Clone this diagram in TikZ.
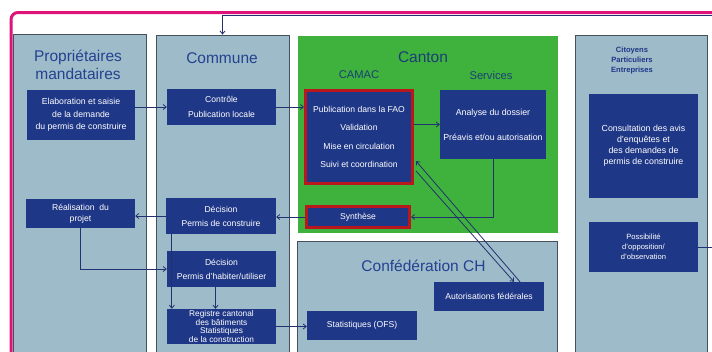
\documentclass[tikz,border=0pt]{standalone}
\usepackage{fontspec}
\setmainfont{Liberation Sans}
\usetikzlibrary{arrows.meta,calc}

\definecolor{panelfill}{RGB}{157,187,201}
\definecolor{panelline}{RGB}{70,80,92}
\definecolor{cantongreen}{RGB}{62,178,60}
\definecolor{navybox}{RGB}{31,55,135}
\definecolor{redline}{RGB}{185,22,30}
\definecolor{framepink}{RGB}{222,18,120}
\definecolor{titleblue}{RGB}{36,66,145}
\definecolor{cantontitle}{RGB}{28,62,118}
\definecolor{connline}{RGB}{36,48,112}

\newcommand{\bxf}[2]{\fontsize{#1}{#2}\selectfont}

\begin{document}
\begin{tikzpicture}[x=1pt,y=-1pt,
  panel/.style={draw=panelline, fill=panelfill, line width=0.8pt, inner sep=0pt},
  greenpanel/.style={fill=cantongreen, inner sep=0pt},
  box/.style={fill=navybox, text=white, align=center, inner sep=0pt},
  redbox/.style={box, draw=redline, line width=3pt},
  title/.style={text=titleblue, font=\bxf{15.5}{18}, inner sep=0pt},
  subtitle/.style={text=cantontitle, font=\bxf{11.2}{13}, inner sep=0pt},
  conn/.style={draw=connline, line width=0.8pt, -{Straight Barb[length=3pt,width=5pt]}},
  plain/.style={draw=connline, line width=0.8pt}
]
\useasboundingbox (0,0) rectangle (712,351);
\clip (0,0) rectangle (712,351);
\fill[white] (0,0) rectangle (712,351);

% outer frame
\draw[framepink, line width=3pt, rounded corners=7pt] (11,400) |- (740,12.5);

% column panels
\node[panel, minimum width=133, minimum height=326] (prop) at (79.5,197) {};
\node[panel, minimum width=133, minimum height=325] (commune) at (222.5,197.5) {};
\node[greenpanel, minimum width=260, minimum height=197] (canton) at (428,134.5) {};
\node[panel, minimum width=260, minimum height=119] (conf) at (427,300.5) {};
\node[panel, minimum width=132, minimum height=325] (citoyens) at (641,197.5) {};

% panel titles
\node[title] (tprop1) at (78,57) {Propriétaires};
\node[title] (tprop2) at (78,74) {mandataires};
\node[title] (tcommune) at (222,58) {Commune};
\node[title, text=cantontitle] (tcanton) at (423,57) {Canton};
\node[subtitle] (tcamac) at (359,75) {CAMAC};
\node[subtitle] (tservices) at (491,75) {Services};
\node[title] (tconf) at (423.5,266) {Confédération CH};
\node[text=navybox, font=\bfseries\bxf{7.6}{10}, align=center, inner sep=0pt] (tcit) at (632,61)
  {Citoyens\\Particuliers\\Entreprises};

% process boxes
\node[box, minimum width=108, minimum height=50, font=\bxf{8.7}{12.5}] (elab) at (81,115)
  {Elaboration et saisie\\de la demande\\du permis de construire};
\node[box, minimum width=109, minimum height=36, font=\bxf{8.6}{15}] (ctrl) at (221.5,107)
  {Contrôle\\Publication locale};
\node[redbox, minimum width=107, minimum height=93, font=\bxf{8.6}{18.3}] (camac) at (359,137)
  {Publication dans la FAO\\Validation\\Mise en circulation\\Suivi et coordination};
\node[box, minimum width=106, minimum height=69, font=\bxf{8.8}{25}] (serv) at (493,124.5)
  {Analyse du dossier\\Préavis et/ou autorisation};
\node[redbox, minimum width=103, minimum height=21, font=\bxf{8.6}{11}] (synth) at (358,217)
  {Synthèse};
\node[box, minimum width=109, minimum height=29, font=\bxf{8.6}{11.5}] (real) at (80.5,213.5)
  {Réalisation~~du\\projet};
\node[box, minimum width=110, minimum height=36, font=\bxf{8.6}{14}] (decpc) at (221,216)
  {Décision\\Permis de construire};
\node[box, minimum width=109, minimum height=36, font=\bxf{8.6}{14}] (decph) at (221.5,269)
  {Décision\\Permis d'habiter/utiliser};
\node[box, minimum width=109, minimum height=35, font=\bxf{8.3}{8.4}] (reg) at (221.5,326.5)
  {Registre cantonal\\des bâtiments\\Statistiques\\de la construction};
\node[box, minimum width=110, minimum height=29, font=\bxf{8.6}{11}] (ofs) at (362,325.5)
  {Statistiques (OFS)};
\node[box, minimum width=110, minimum height=29, font=\bxf{8.6}{11}] (autfed) at (489,296.5)
  {Autorisations fédérales};
\node[box, minimum width=109, minimum height=104, font=\bxf{8.8}{11}] (consult) at (643.5,146)
  {Consultation des avis\\d'enquêtes et\\des demandes de\\permis de construire};
\node[box, minimum width=109, minimum height=50, font=\bxf{7.6}{10}] (poss) at (643.5,247)
  {Possibilité\\d'opposition/\\d'observation};

% loose ends leaving the frame
\coordinate (topout) at (740,15);
\coordinate (possout) at (740,247);

% connectors
\draw[conn] (topout) -| (commune.north);
\draw[conn] (elab.east |- ctrl) -- (ctrl.west);
\draw[conn] (ctrl.east) -- (ctrl.east -| camac.west);
\draw[conn] (camac.east |- serv) -- (serv.west);
\draw[conn] (serv.south) |- (synth.east);
\draw[conn] (synth.west) -- (synth.west -| decpc.east);
\draw[conn] (decpc.west) -- (decpc.west -| real.east);
\draw[conn] (real.south) |- (decph.west);
\draw[conn] ($(decpc.south west)+(6,0)$) -- ($(reg.north west)+(5,0)$);
\draw[conn] ($(decph.south)+(-6,0)$) -- ($(reg.north)+(-6,0)$);
\draw[conn] (reg.east) -- (reg.east -| ofs.west);
\draw[conn] ($(autfed.north)+(31,0)$) -- ($(camac.east)+(2,24)$);
\draw[conn] ($(camac.east)+(2,34)$) -- ($(autfed.north)+(25,0)$);
\draw[plain] (poss.east) -- (possout);
\end{tikzpicture}
\end{document}
